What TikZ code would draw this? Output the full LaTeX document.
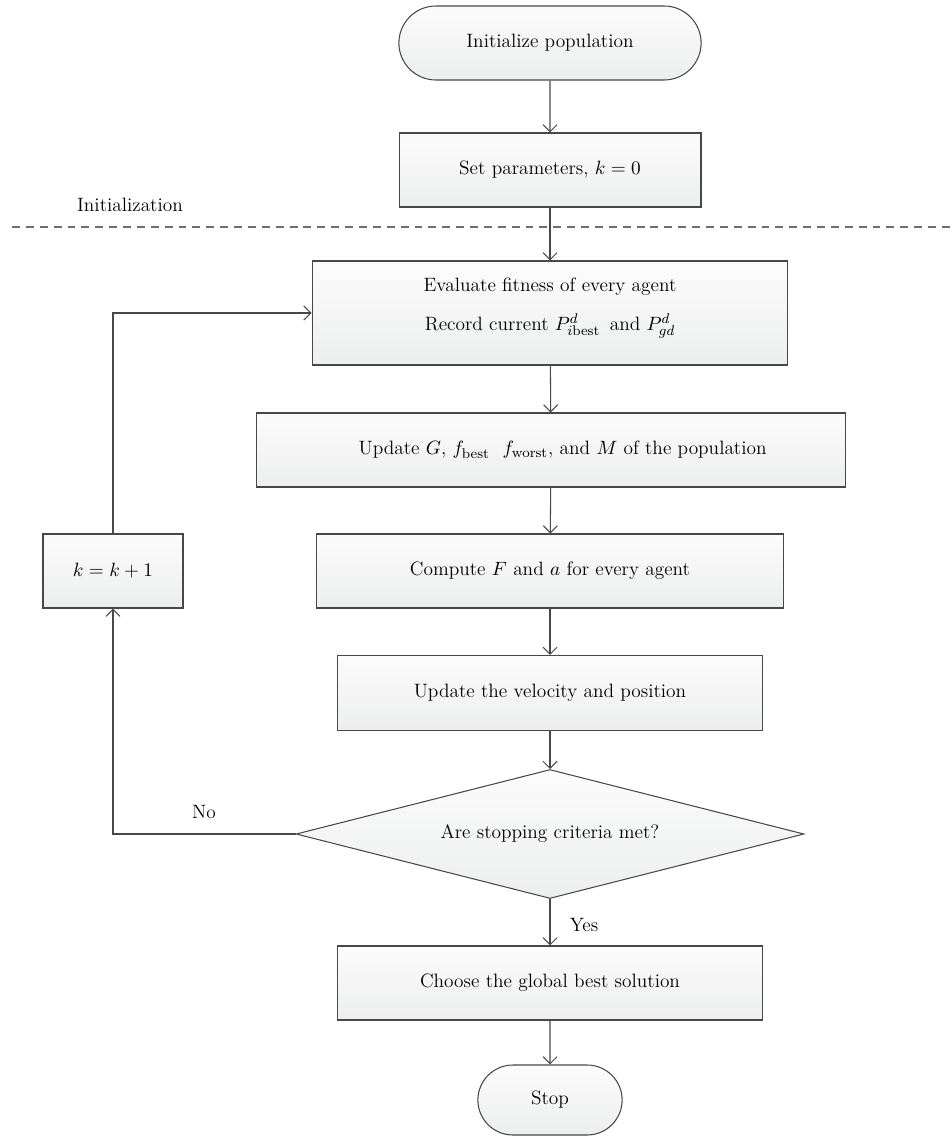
\documentclass[tikz,border=0pt]{standalone}
\usetikzlibrary{shapes.geometric,shapes.misc,arrows.meta}
\definecolor{edgegray}{RGB}{72,72,72}
\definecolor{dashgray}{RGB}{110,110,110}
\definecolor{boxtop}{RGB}{252,252,252}
\definecolor{boxbottom}{RGB}{237,238,238}
\begin{document}
\begin{tikzpicture}[x=0.02cm, y=-0.02cm, line width=0.6pt,
    >={Straight Barb[length=4pt,width=8pt]},
    every node/.style={font=\fontsize{11}{13}\selectfont},
    box/.style={draw=edgegray, top color=boxtop, bottom color=boxbottom, minimum height=1.48cm},
    term/.style={box, rounded rectangle},
    decision/.style={draw=edgegray, top color=boxtop, bottom color=boxbottom, diamond, aspect=4,
        minimum width=10.16cm, minimum height=2.58cm, inner sep=0pt},
    flow/.style={draw=edgegray, ->}]
    \useasboundingbox (0,0) rectangle (952,1140);

    % initialization part
    \node [term, minimum width=6.28cm] (init) at (550,43) {Initialize population};
    \node [box, minimum width=6.04cm] (setp) at (550,170) {Set parameters, $k=0$};
    \node (initlbl) at (130,205) {Initialization};
    \draw [dashgray, dash pattern=on 4.5pt off 3.4pt] (12,227) -- (952,227);

    % main loop
    \node [box, minimum width=9.52cm, minimum height=2.08cm, align=center] (eval) at (550,313)
        {Evaluate fitness of every agent\\[9pt] Record current $P^{d}_{i\mathrm{best}}$\,\ and\ $P^{d}_{gd}$\\[-3pt]};
    \node [box, minimum width=11.8cm] (upd) at (551,450)
        {\hspace{1.2em}Update $G$, $f_{\mathrm{best}}$\ \ $f_{\mathrm{worst}}$, and $M$ of the population};
    \node [box, minimum width=9.36cm] (comp) at (550,571) {Compute $F$ and $a$ for every agent};
    \node [box, minimum width=8.52cm, minimum height=1.5cm] (vel) at (550,693) {Update the velocity and position};
    \node [decision] (stopq) at (550,834) {Are stopping criteria met?};
    \node [box, minimum width=2.8cm] (incr) at (113,571) {$k=k+1$};

    % end
    \node [box, minimum width=8.52cm] (best) at (550,983) {Choose the global best solution};
    \node [term, minimum width=3.12cm, minimum height=1.4cm] (stop) at (550,1100) {Stop};

    \node (no) at (204,812) {No};
    \node (yes) at (584,925) {Yes};

    \path [flow] (init) edge (setp);
    \path [flow] (setp) edge (eval);
    \path [flow] (eval) edge (upd);
    \path [flow] (upd) edge (comp);
    \path [flow] (comp) edge (vel);
    \path [flow] (vel) edge (stopq);
    \path [flow] (stopq) edge (best);
    \path [flow] (best) edge (stop);
    \draw [flow] (stopq.west) -| (incr.south);
    \draw [flow] (incr.north) |- (eval.west);
\end{tikzpicture}
\end{document}
